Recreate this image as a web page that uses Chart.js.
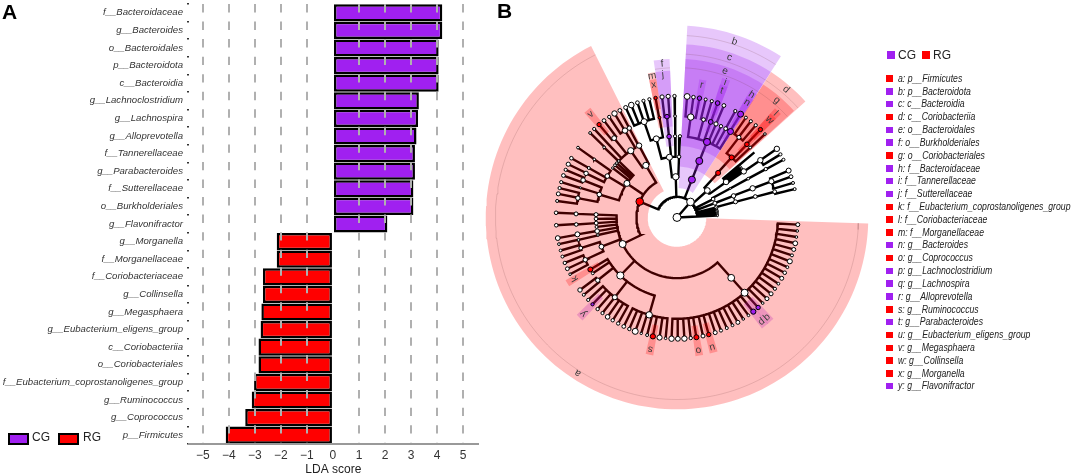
<html lang="en">
<head>
    <meta charset="UTF-8">
    <title>LEfSe LDA scores and cladogram</title>
    <script src="https://cdn.jsdelivr.net/npm/chart.js@4"></script>
    <style>
        html, body { margin: 0; background: #fff; overflow: hidden; }
        body { width: 1072px; height: 475px; position: relative; font-family: "Liberation Sans", Arial, sans-serif; color: #222; }
        canvas { position: absolute; top: 0; }
        #graphA { left: 0; }
        #graphB { left: 470px; }
        .panel { position: absolute; font-weight: bold; font-size: 21px; line-height: 21px; color: #000; }
        .key { position: absolute; font-size: 12px; line-height: 14px; }
        .box { position: absolute; width: 17px; height: 8px; border: 2px solid #000; }
        .sq { position: absolute; }
        .item { position: absolute; font-size: 11px; line-height: 13px; font-style: italic; white-space: nowrap; transform: scaleX(0.79); transform-origin: left center; }
    </style>
</head>
<body>
    <canvas id="graphA" width="480" height="477"></canvas>
    <canvas id="graphB" width="415" height="475"></canvas>
    <div class="panel" style="left:2px;top:1px">A</div>
    <div class="panel" style="left:497px;top:0">B</div>
    <div id="legends"></div>

    <script>
        const CG = '#a020f0';
        const RG = '#ff0000';

        // LDA bars
        const taxa = ['f__Bacteroidaceae', 'g__Bacteroides', 'o__Bacteroidales', 'p__Bacteroidota', 'c__Bacteroidia',
            'g__Lachnoclostridium', 'g__Lachnospira', 'g__Alloprevotella', 'f__Tannerellaceae', 'g__Parabacteroides',
            'f__Sutterellaceae', 'o__Burkholderiales', 'g__Flavonifractor', 'g__Morganella', 'f__Morganellaceae',
            'f__Coriobacteriaceae', 'g__Collinsella', 'g__Megasphaera', 'g__Eubacterium_eligens_group', 'c__Coriobacteriia',
            'o__Coriobacteriales', 'f__Eubacterium_coprostanoligenes_group', 'g__Ruminococcus', 'g__Coprococcus', 'p__Firmicutes'];
        const cgScores = [4.2, 4.2, 4.06, 4.06, 4.06, 3.3, 3.27, 3.21, 3.15, 3.15, 3.09, 3.09, 2.09,
            null, null, null, null, null, null, null, null, null, null, null, null];
        const rgScores = [null, null, null, null, null, null, null, null, null, null, null, null, null,
            -2.16, -2.16, -2.69, -2.69, -2.75, -2.78, -2.86, -2.86, -3.03, -3.12, -3.37, -4.12];
        const scoreTicks = [-5, -4, -3, -2, -1, 0, 1, 2, 3, 4, 5];

        // legend of panel B
        const cladeKeys = ['a', 'b', 'c', 'd', 'e', 'f', 'g', 'h', 'i', 'j', 'k', 'l', 'm', 'n', 'o', 'p', 'q', 'r', 's', 't', 'u', 'v', 'w', 'x', 'y'];
        const cladeNames = ['p__Firmicutes', 'p__Bacteroidota', 'c__Bacteroidia', 'c__Coriobacteriia', 'o__Bacteroidales',
            'o__Burkholderiales', 'o__Coriobacteriales', 'f__Bacteroidaceae', 'f__Tannerellaceae', 'f__Sutterellaceae',
            'f__Eubacterium_coprostanoligenes_group', 'f__Coriobacteriaceae', 'f__Morganellaceae', 'g__Bacteroides', 'g__Coprococcus',
            'g__Lachnoclostridium', 'g__Lachnospira', 'g__Alloprevotella', 'g__Ruminococcus', 'g__Parabacteroides',
            'g__Eubacterium_eligens_group', 'g__Megasphaera', 'g__Collinsella', 'g__Morganella', 'g__Flavonifractor'];
        const cladeGroups = ['RG', 'CG', 'CG', 'RG', 'CG', 'CG', 'RG', 'CG', 'CG', 'CG', 'RG', 'RG', 'RG', 'CG', 'RG', 'CG', 'CG', 'CG', 'RG', 'CG', 'RG', 'RG', 'RG', 'RG', 'CG'];
        // taxonomic rank of each clade: 2 phylum .. 6 genus
        const cladeRanks = [2, 2, 3, 3, 4, 4, 4, 5, 5, 5, 5, 5, 5, 6, 6, 6, 6, 6, 6, 6, 6, 6, 6, 6, 6];
        // angular extent of each clade, degrees clockwise from north
        const cladeFrom = [91.8, 3.1, 3.1, 33, 3.1, 351.5, 33, 30, 18, 351.5, 237.5, 42, 348.5, 30, 169.2, 139.3, 136.3, 9.2, 189.8, 18, 163.1, 318.4, 42, 348.5, 222.6];
        const cladeTo = [333.3, 32.9, 32.9, 48, 32.9, 357.3, 47.7, 33.2, 21.3, 357.3, 240.7, 45.2, 351.5, 33.2, 172.4, 142.5, 139.5, 12.2, 193, 21.3, 166.4, 321.6, 45.2, 351.5, 225.9];
        const cladeMid = [212.55, 18.2, 18.2, 40.6, 18.2, 354.4, 40.5, 31.4, 19.7, 354.3, 239.2, 43.6, 350, 31.5, 170.8, 140.9, 137.9, 10.6, 191.5, 19.5, 164.8, 320, 43.6, 350, 224.3];

        // cladogram: [angle, node size, group, children]
        const tree = [0, 4, '', [
            [41, 3.8, '', [
                [293, 3.8, 'RG', [
                    [244, 3.5, '', [
                        [138, 3.4, '', [
                            [138, 3.5, '', [
                                [93.4, 2], [96.4, 1.3], [99.3, 1.3], [102.3, 2.4], [105.3, 2], [108.2, 1.5], [111.2, 2.5], [114.2, 1.4],
                                [117.1, 1.8], [120.1, 2], [123.1, 1.4], [126, 1.6], [129, 2], [132, 2], [134.9, 1.3], [137.9, 2.2, 'CG'],
                                [140.9, 2.6, 'CG'], [143.8, 1.3], [146.8, 1.3], [149.8, 2], [152.7, 1.4], [155.7, 1.5], [158.7, 1.6], [161.6, 2],
                                [164.8, 2.2, 'RG'], [167.6, 2], [170.8, 2.5, 'RG'], [173.5, 1.7], [176.5, 2.7], [179.6, 2.4], [182.6, 2.7]
                            ]]
                        ]],
                        [224.4, 3.6, '', [
                            [196, 3.2, '', [
                                [185.4, 1.3], [188.3, 2.6], [191.5, 2.6, 'RG'], [194.3, 1.5], [197.2, 1.2], [200.2, 3], [203.2, 1.7], [206.1, 1.9]
                            ]],
                            [218, 2.5, '', [
                                [209.1, 1.7], [212.1, 1.7], [215, 2.3], [218, 1.6], [221, 1.7], [224.3, 1.6, 'CG'], [227.2, 1.6]
                            ]],
                            [231.7, 2.2, '', [[230.4, 1.5], [233.3, 2.2]]],
                            [236.5, 1.4],
                            [239.1, 2.5, 'RG']
                        ]],
                        [248.9, 2.4, '', [
                            [245.3, 2.2, '', [[242.1, 1.3], [245, 1.9], [248, 1.7]]],
                            [252.4, 1.9, '', [[251.2, 1.5], [254.2, 1.4]]]
                        ]],
                        [257.5, 1.3, '', [[257.2, 1.3, '', [[257.3, 1.4]]]]],
                        [260.3, 2.3, '', [[260.4, 2.5, '', [[260.2, 2.4]]]]],
                        [263.3, 1.5],
                        [266, 1.9, '', [[266, 1.8, '', [[266.3, 1.8]]]]],
                        [269, 1.8],
                        [272, 2, '', [[272, 2, '', [[272.2, 1.8]]]]]
                    ]],
                    [304.1, 3, '', [
                        [286.4, 2.3, '', [
                            [281, 2.2, '', [[277.8, 1.5], [281.2, 2], [284, 1.6]]],
                            [287, 1, '', [[286.9, 1.6]]],
                            [291.6, 2.3, '', [[290.2, 1.9], [293.1, 1.6]]]
                        ]],
                        [300.6, 2.3, '', [
                            [295.8, 2.2, '', [[296, 2.1]]],
                            [299.2, 1.5, '', [[299.2, 1.8]]],
                            [305, 1.3, '', [[305.1, 1.4]]]
                        ]],
                        [307.5, 1.2], [310, 1.4], [312, 1.3], [314, 1.3]
                    ]],
                    [329, 3.1, '', [
                        [325.2, 3.1, '', [
                            [313.8, 1.3, '', [[314.1, 1.4]]],
                            [316.8, 0, '', [[316.8, 1.6]]],
                            [321.5, 2.4, '', [[319.9, 2.1, 'RG'], [322.9, 1.9]]],
                            [329, 2.7, '', [[325.9, 1.6], [328.9, 2.7], [331.8, 1.9]]]
                        ]],
                        [332.1, 2.7, '', [[331.8, 2.2]]]
                    ]]
                ]],
                [358.2, 3.2, '', [
                    [352.8, 3, '', [
                        [345.2, 3, '', [
                            [341, 3, '', [[334.9, 2], [337.8, 2.8], [340.9, 1.9], [343.9, 1.6], [346.8, 1.6]]],
                            [350, 1.4, 'RG', [[349.8, 1.7, 'RG']]]
                        ]],
                        [354.4, 2.3, 'CG', [
                            [354.3, 2.3, 'CG', [[352.9, 2.1], [355.8, 2.1]]]
                        ]],
                        [358.6, 1.6, '', [[358.9, 1.4, '', [[358.8, 1.7]]]]]
                    ]],
                    [1.9, 1.8, '', [[2.1, 1.6]]]
                ]],
                [21.6, 3.5, 'CG', [
                    [21.6, 3.5, 'CG', [
                        [21.7, 3.5, 'CG', [
                            [7.8, 3.2, '', [[4.8, 2.9], [7.8, 1.8], [10.7, 2.2, 'CG']]],
                            [15.2, 1.9, '', [[13.7, 1.5], [16.7, 1.6]]],
                            [19.5, 2.4, 'CG', [[19.6, 2.3, 'CG']]],
                            [22.7, 2.1, '', [[22.8, 1.9]]],
                            [25.8, 1.7],
                            [28.8, 1.9],
                            [32, 3, 'CG', [[28.8, 1.6], [31.7, 3, 'CG']]]
                        ]]
                    ]]
                ]],
                [48.5, 2.9, '', [
                    [42.8, 2.5, 'RG', [
                        [42.4, 2.5, 'RG', [
                            [37.8, 2, '', [[34.7, 1.5], [37.6, 1.6], [40.6, 1.6]]],
                            [43.8, 2.3, 'RG', [[43.6, 2.1, 'RG']]],
                            [46.4, 1.4, '', [[46.6, 1.3]]]
                        ]]
                    ]],
                    [54.2, 2.8, '', [
                        [49.9, 0, '', [[50, 0]]],
                        [51.3, 1], [52.6, 1], [54, 1],
                        [55.5, 2.7, '', [[55.6, 2.7, '', [[55.6, 2.7], [58.7, 1.6]]]]]
                    ]]
                ]],
                [63.2, 1.8, '', [[61.5, 1, '', [[61.5, 1.4, '', [[61.5, 1.7, '', [[61.6, 1.5]]]]]]]]],
                [69.4, 2, '', [[69.2, 2.2, '', [[69, 2.7, '', [[69.1, 2.6, '', [[67.3, 2.5], [70.4, 1.9], [73.5, 1.5]]]]]]]]],
                [75.6, 1.6, '', [[75.1, 2, '', [[75.1, 1.9, '', [[75.3, 1.9, '', [[76.5, 1.5]]]]]]]]],
                [78, 1.2], [79.6, 1], [81.3, 1.4], [83, 1], [84.5, 1], [86, 1]
            ]],
            [87.5, 0, '', [[87.5, 1]]]
        ]];

        // flatten the tree into lines and nodes
        const rankRadius = [0, 21, 41.5, 62, 83, 103.5, 124];
        const rankOuter = [0, 0, 196, 177, 162, 150, 143];
        const rankInner = [0, 0, 30, 52, 73, 93, 112];
        const rankRim = [0, 0, 186, 167, 153, 0, 0];
        const rankLabel = [0, 0, 189, 172, 157.5, 146.6, 137.5];

        function polar(angle, r) {
            const t = angle * Math.PI / 180;
            return { x: r * Math.sin(t), y: r * Math.cos(t) };
        }

        function arcPoints(from, to, r) {
            const pts = [];
            const steps = Math.max(1, Math.ceil(Math.abs(to - from) / 2));
            for (let i = 0; i <= steps; i++) {
                pts.push(polar(from + (to - from) * i / steps, r));
            }
            return pts;
        }

        const branchPoints = [];
        const nodePoints = [];
        const nodeSizes = [];
        const nodeFills = [];

        function walk(node, rank, parent) {
            const [angle, size, group, children] = node;
            const r = rankRadius[rank];
            if (parent !== null) {
                const pr = rankRadius[rank - 1];
                let delta = parent - angle;
                if (delta > 180) delta -= 360;
                if (delta < -180) delta += 360;
                branchPoints.push(polar(angle, r), ...arcPoints(angle, angle + delta, pr), { x: NaN, y: NaN });
            }
            if (size > 0) {
                nodePoints.push(polar(angle, r));
                nodeSizes.push(size);
                nodeFills.push(group === 'CG' ? CG : group === 'RG' ? RG : '#fff');
            }
            (children || []).forEach(c => walk(c, rank + 1, angle));
        }
        walk(tree, 0, null);

        const rimPoints = [];
        const wedgeSets = [];
        cladeKeys.forEach((key, i) => {
            const rank = cladeRanks[i];
            // k has no genus below it, its shade stops short of the other families
            const reach = key === 'k' ? 131 : rankOuter[rank];
            const outer = arcPoints(cladeFrom[i], cladeTo[i], reach);
            const inner = arcPoints(cladeTo[i], cladeFrom[i], rankInner[rank]);
            wedgeSets.push({
                type: 'line',
                label: key,
                data: [...outer, ...inner, outer[0]],
                backgroundColor: (cladeGroups[i] === 'CG' ? 'rgba(160,32,240,0.25)' : 'rgba(255,0,0,0.25)'),
                borderWidth: 0,
                pointRadius: 0,
                fill: 'shape',
                tension: 0,
                order: 5
            });
            if (rankRim[rank]) {
                rimPoints.push(...arcPoints(cladeFrom[i], cladeTo[i], rankRim[rank]), { x: NaN, y: NaN });
            }
        });

        const cladeLetters = {
            id: 'cladeLetters',
            afterDatasetsDraw(chart) {
                const { ctx, scales } = chart;
                ctx.save();
                ctx.font = '10px "Liberation Sans", Arial, sans-serif';
                ctx.fillStyle = '#3a3a3a';
                ctx.textAlign = 'center';
                ctx.textBaseline = 'middle';
                cladeKeys.forEach((key, i) => {
                    const p = polar(cladeMid[i], key === 'k' ? 122 : rankLabel[cladeRanks[i]]);
                    ctx.save();
                    ctx.translate(scales.x.getPixelForValue(p.x), scales.y.getPixelForValue(p.y));
                    ctx.rotate(cladeMid[i] * Math.PI / 180);
                    ctx.fillText(key, 0, 0);
                    ctx.restore();
                });
                ctx.restore();
            }
        };

        new Chart(document.getElementById('graphB').getContext('2d'), {
            type: 'scatter',
            data: {
                datasets: [
                    { type: 'line', label: 'branches', data: branchPoints, borderColor: '#000', borderWidth: 2.4, pointRadius: 0, fill: false, spanGaps: false, order: 10 },
                    ...wedgeSets,
                    { type: 'line', label: 'rims', data: rimPoints, borderColor: 'rgba(110,60,60,0.22)', borderWidth: 0.8, pointRadius: 0, fill: false, spanGaps: false, order: 4 },
                    { label: 'nodes', data: nodePoints, pointRadius: nodeSizes, pointBackgroundColor: nodeFills, pointBorderColor: '#000', pointBorderWidth: 1, showLine: false, order: 1 }
                ]
            },
            options: {
                responsive: false,
                animation: false,
                events: [],
                layout: { padding: 0 },
                plugins: { legend: { display: false }, tooltip: { enabled: false } },
                scales: {
                    x: { type: 'linear', display: false, min: -207, max: 208 },
                    y: { type: 'linear', display: false, min: -258, max: 217 }
                }
            },
            plugins: [cladeLetters]
        });

        new Chart(document.getElementById('graphA').getContext('2d'), {
            type: 'bar',
            data: {
                labels: taxa,
                datasets: [
                    { label: 'CG', data: cgScores, backgroundColor: CG, borderColor: '#000', borderWidth: 2.5, borderSkipped: false, barPercentage: 0.98, categoryPercentage: 1 },
                    { label: 'RG', data: rgScores, backgroundColor: RG, borderColor: '#000', borderWidth: 2.5, borderSkipped: false, barPercentage: 0.98, categoryPercentage: 1 }
                ]
            },
            options: {
                indexAxis: 'y',
                responsive: false,
                animation: false,
                events: [],
                layout: { padding: { top: 4, right: 2.3 } },
                plugins: { legend: { display: false }, tooltip: { enabled: false } },
                scales: {
                    x: {
                        type: 'linear',
                        stacked: true,
                        min: -5.53,
                        max: 5.56,
                        afterBuildTicks: scale => { scale.ticks = scoreTicks.map(v => ({ value: v })); },
                        afterFit: scale => { scale.height = 33; },
                        ticks: {
                            autoSkip: false,
                            maxRotation: 0,
                            padding: 4,
                            color: '#333',
                            font: { family: '"Liberation Sans", Arial, sans-serif', size: 12 },
                            callback: v => String(v).replace('-', '\u2212')
                        },
                        grid: {
                            z: 1,
                            drawTicks: false,
                            lineWidth: 2,
                            color: c => (c.tick && c.tick.value === 0 ? 'rgba(0,0,0,0)' : '#b0b0b0')
                        },
                        border: { z: 2, color: '#999', width: 2, dash: [8.4, 9.15] },
                        title: {
                            display: true,
                            text: 'LDA score',
                            color: '#222',
                            padding: 0,
                            font: { family: '"Liberation Sans", Arial, sans-serif', size: 12 }
                        }
                    },
                    y: {
                        type: 'category',
                        stacked: true,
                        afterFit: scale => { scale.width = 189; scale.paddingTop = 0; scale.paddingBottom = 0; },
                        ticks: {
                            autoSkip: false,
                            padding: 4,
                            color: '#333',
                            font: { family: '"Liberation Sans", Arial, sans-serif', size: 9.6, style: 'italic' }
                        },
                        grid: { drawOnChartArea: false, drawTicks: true, tickLength: 2, color: '#333', lineWidth: 1.5 },
                        border: { display: false }
                    }
                }
            }
        });

        // html legends
        const legends = document.getElementById('legends');
        function addEl(cls, css, text) {
            const el = document.createElement('div');
            el.className = cls;
            el.style.cssText = css;
            if (text) el.textContent = text;
            legends.appendChild(el);
        }
        addEl('box', `left:8px;top:433px;width:17px;height:8px;background:${CG}`);
        addEl('key', 'left:32px;top:430px', 'CG');
        addEl('box', `left:58px;top:433px;width:17px;height:8px;background:${RG}`);
        addEl('key', 'left:83px;top:430px', 'RG');
        addEl('sq', `left:887px;top:51px;width:8px;height:8px;background:${CG}`);
        addEl('key', 'left:898px;top:48px', 'CG');
        addEl('sq', `left:922px;top:51px;width:8px;height:8px;background:${RG}`);
        addEl('key', 'left:933px;top:48px', 'RG');
        cladeKeys.forEach((key, i) => {
            const top = 78.3 + i * 12.82;
            addEl('sq', `left:886px;top:${top - 3}px;width:6.5px;height:6.5px;background:${cladeGroups[i] === 'CG' ? CG : RG}`);
            addEl('item', `left:898px;top:${top - 6.5}px`, `${key}: ${cladeNames[i]}`);
        });
    </script>
</body>
</html>
